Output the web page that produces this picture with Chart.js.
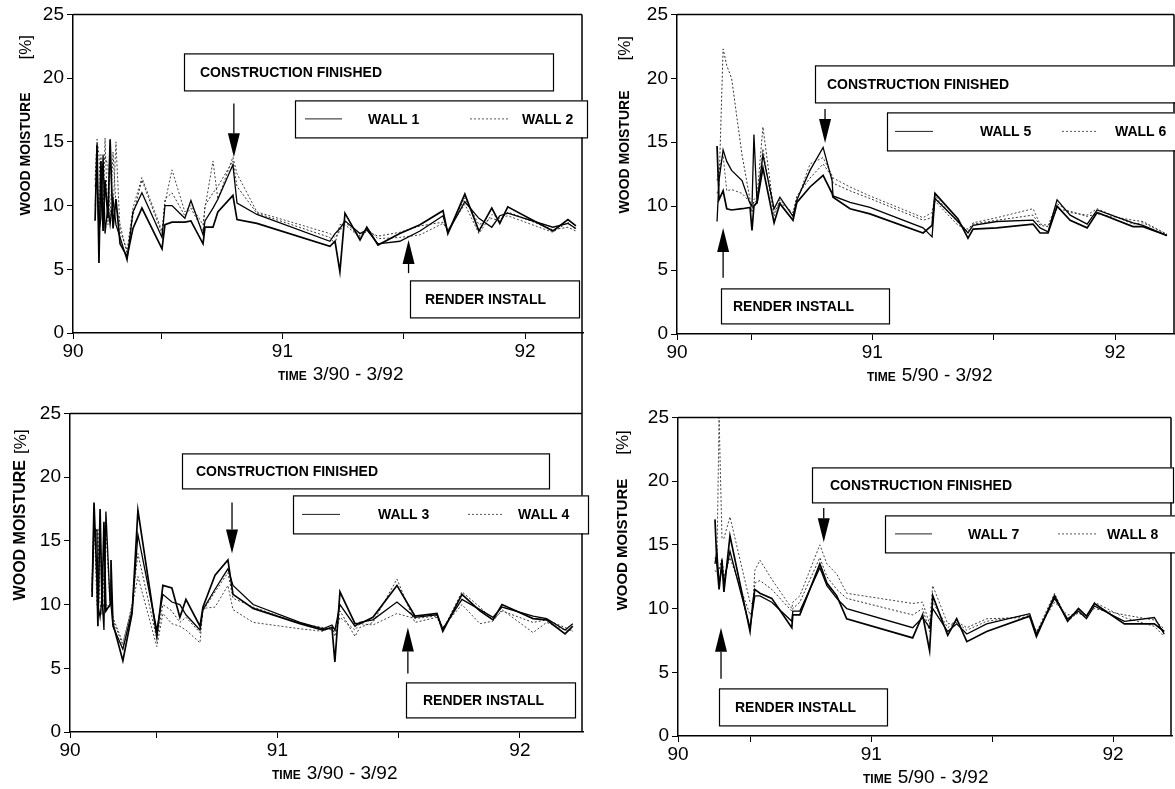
<!DOCTYPE html>
<html>
<head>
<meta charset="utf-8">
<script src="https://cdn.jsdelivr.net/npm/chart.js@4.4.1/dist/chart.umd.min.js"></script>
<style>
  html, body { margin: 0; padding: 0; background: #fff; }
  body { width: 1175px; height: 789px; position: relative; overflow: hidden; }
  canvas { position: absolute; }
</style>
</head>
<body>
<canvas id="p1"></canvas>
<canvas id="p2"></canvas>
<canvas id="p3"></canvas>
<canvas id="p4"></canvas>
<script>
// ---- data (years as decimals, moisture in %) ----
const xTickValues = [90.5, 91, 91.5, 92];
const xTickLabels = ['90', '', '91', '', '92'];   // first label sits on the axis origin

// walls 1 + 2 (3/90 - 3/92)
const t1 = [90.228, 90.236, 90.244, 90.252, 90.261, 90.269, 90.281, 90.290, 90.302, 90.314,
            90.331, 90.360, 90.384, 90.421, 90.504, 90.516, 90.545, 90.598, 90.623, 90.673,
            90.681, 90.714, 90.734, 90.796, 90.813, 90.895, 91.196, 91.217, 91.237, 91.258,
            91.320, 91.348, 91.394, 91.484, 91.567, 91.662, 91.682, 91.752, 91.810, 91.863,
            91.896, 91.929, 92.115, 92.177, 92.210];
const wall1a = [8.8, 14.8, 5.5, 13.5, 8.0, 12.0, 9.0, 15.2, 8.2, 10.5,
                7.0, 6.0, 8.2, 9.8, 6.6, 8.5, 8.7, 8.7, 8.8, 7.0,
                8.3, 8.3, 9.5, 10.8, 8.9, 8.6, 6.8, 7.2, 4.8, 9.4,
                7.3, 8.3, 6.9, 7.8, 8.5, 9.6, 7.8, 10.9, 8.0, 9.8,
                8.6, 9.9, 8.0, 8.9, 8.4];
const wall1b = [11.5, 12.0, 8.0, 9.0, 14.0, 7.8, 10.0, 8.5, 10.5, 8.5,
                7.5, 5.7, 9.5, 11.0, 7.5, 10.0, 10.0, 9.0, 10.4, 7.7,
                8.8, 9.8, 10.5, 13.2, 10.2, 9.3, 7.2, 7.8, 8.2, 8.8,
                7.8, 8.1, 7.0, 7.2, 8.0, 9.2, 7.9, 10.3, 9.0, 8.3,
                9.2, 9.4, 8.3, 8.6, 8.2];
const wall2a = [12.0, 15.2, 14.0, 10.0, 13.5, 13.8, 13.2, 9.0, 14.2, 10.0,
                8.5, 6.2, 9.2, 12.0, 7.8, 10.5, 11.0, 9.2, 9.8, 8.0,
                10.0, 11.0, 11.5, 13.5, 11.5, 9.4, 7.5, 7.0, 8.5, 8.5,
                7.5, 8.0, 7.6, 7.9, 8.4, 8.7, 8.0, 10.6, 8.5, 9.0,
                8.8, 9.5, 8.1, 8.3, 8.0];
const wall2b = [10.0, 13.0, 9.0, 14.0, 8.5, 15.3, 8.5, 13.5, 9.5, 15.0,
                8.0, 6.5, 9.8, 12.2, 8.0, 10.2, 12.8, 9.5, 10.0, 8.5,
                9.8, 13.5, 10.5, 13.8, 12.5, 9.5, 7.8, 7.5, 8.0, 8.7,
                7.6, 8.2, 7.4, 7.5, 7.7, 8.6, 8.1, 10.1, 7.8, 9.3,
                9.0, 9.2, 7.9, 8.7, 8.1];

// walls 5 + 6 (5/90 - 3/92)
const t2 = [90.360, 90.368, 90.385, 90.400, 90.420, 90.463, 90.496, 90.504, 90.512, 90.525,
            90.549, 90.595, 90.619, 90.673, 90.689, 90.743, 90.797, 90.834, 90.838, 90.908,
            90.990, 91.209, 91.246, 91.258, 91.353, 91.394, 91.415, 91.513, 91.662, 91.691,
            91.724, 91.761, 91.815, 91.885, 91.926, 92.074, 92.115, 92.214];
const wall5a = [14.7, 10.5, 11.2, 9.8, 9.7, 9.8, 9.9, 8.1, 10.0, 10.3,
                13.0, 8.7, 10.2, 8.9, 10.3, 11.5, 12.4, 11.0, 10.7, 9.8,
                9.4, 7.9, 8.5, 11.0, 9.0, 7.5, 8.2, 8.3, 8.6, 7.9,
                7.9, 10.0, 8.9, 8.3, 9.5, 8.4, 8.4, 7.7];
const wall5b = [8.8, 12.0, 14.4, 13.5, 12.8, 12.0, 10.2, 10.0, 15.6, 10.2,
                14.0, 9.8, 10.7, 9.2, 10.5, 12.8, 14.6, 12.0, 10.8, 10.3,
                9.9, 8.3, 7.6, 10.6, 8.8, 7.9, 8.5, 8.8, 8.9, 8.3,
                8.0, 10.5, 9.3, 8.6, 9.7, 8.7, 8.5, 7.7];
const wall6a = [11.0, 11.5, 22.3, 21.0, 20.0, 14.0, 10.5, 9.5, 10.5, 10.8,
                16.2, 9.5, 10.3, 9.5, 10.8, 12.2, 13.3, 12.3, 11.8, 11.2,
                10.6, 8.9, 9.1, 10.4, 8.5, 8.2, 8.6, 8.9, 9.3, 8.5,
                8.4, 9.8, 9.6, 9.2, 9.4, 8.9, 8.8, 7.8];
const wall6b = [12.0, 13.0, 14.0, 11.2, 11.3, 11.0, 10.3, 9.8, 10.2, 10.5,
                14.5, 9.2, 10.5, 9.3, 10.4, 13.3, 13.8, 12.4, 12.2, 11.5,
                10.8, 9.1, 9.5, 10.8, 8.7, 8.0, 8.7, 9.1, 9.8, 8.6,
                8.5, 10.2, 9.5, 9.3, 9.8, 8.6, 8.7, 7.8];

// walls 3 + 4 (3/90 - 3/92)
const t3 = [90.236, 90.244, 90.256, 90.260, 90.269, 90.277, 90.285, 90.293, 90.310, 90.314,
            90.322, 90.363, 90.401, 90.425, 90.503, 90.528, 90.565, 90.598, 90.623, 90.681,
            90.693, 90.743, 90.796, 90.817, 90.900, 91.093, 91.188, 91.225, 91.237, 91.258,
            91.320, 91.340, 91.394, 91.493, 91.567, 91.658, 91.682, 91.761, 91.835, 91.889,
            91.926, 92.054, 92.110, 92.186, 92.218];
const wall3a = [10.6, 18.0, 12.0, 8.3, 17.5, 10.0, 16.5, 9.5, 10.0, 13.5,
                8.5, 5.6, 9.3, 17.4, 7.5, 11.5, 11.3, 9.0, 10.4, 8.3,
                9.8, 12.3, 13.5, 10.8, 9.7, 8.5, 8.0, 8.2, 5.5, 11.0,
                8.5, 8.5, 9.0, 11.5, 9.1, 9.3, 7.9, 10.8, 9.5, 8.8,
                10.0, 8.9, 8.8, 7.7, 8.3];
const wall3b = [11.0, 16.0, 15.8, 10.0, 9.0, 10.5, 8.0, 17.3, 10.2, 10.0,
                8.3, 6.5, 9.5, 15.5, 8.0, 10.8, 10.2, 10.0, 9.2, 8.0,
                9.6, 11.2, 12.8, 11.5, 10.0, 8.6, 8.1, 8.4, 8.0, 10.0,
                8.3, 8.6, 8.8, 10.2, 9.0, 9.2, 8.1, 10.4, 9.6, 9.0,
                9.8, 9.1, 8.9, 8.0, 8.5];
const wall4a = [12.0, 17.0, 10.0, 9.5, 16.5, 10.2, 9.8, 16.0, 10.0, 12.0,
                8.8, 6.8, 10.0, 14.0, 7.3, 10.0, 9.5, 8.6, 9.0, 7.8,
                9.5, 11.0, 12.5, 10.5, 9.8, 8.5, 8.2, 8.0, 7.8, 9.5,
                7.5, 8.2, 8.6, 12.0, 8.6, 9.0, 8.0, 11.0, 9.8, 8.8,
                9.5, 8.6, 8.8, 8.2, 7.9];
const wall4b = [11.5, 15.5, 14.5, 16.0, 10.0, 9.2, 12.5, 10.0, 9.8, 10.5,
                9.0, 7.0, 9.8, 12.2, 6.7, 9.3, 8.5, 8.3, 8.0, 7.0,
                9.7, 9.8, 11.5, 9.6, 8.6, 8.1, 7.9, 8.3, 7.5, 9.0,
                8.0, 8.5, 8.4, 9.3, 8.9, 9.1, 8.2, 10.0, 8.5, 8.7,
                9.6, 7.8, 8.6, 8.0, 8.0];

// walls 7 + 8 (5/90 - 3/92)
const t4 = [90.353, 90.361, 90.370, 90.382, 90.390, 90.415, 90.498, 90.510, 90.518, 90.539,
            90.588, 90.671, 90.675, 90.704, 90.787, 90.816, 90.857, 90.898, 91.171, 91.212,
            91.241, 91.254, 91.316, 91.353, 91.395, 91.477, 91.655, 91.683, 91.758, 91.812,
            91.857, 91.890, 91.923, 92.047, 92.171, 92.212];
const wall7a = [17.0, 13.5, 11.5, 13.8, 11.3, 15.7, 8.2, 10.5, 11.5, 11.2,
                10.8, 8.5, 9.5, 9.5, 13.5, 12.0, 11.0, 9.2, 7.7, 9.5,
                6.7, 11.0, 7.9, 9.2, 7.4, 8.2, 9.4, 7.8, 11.0, 9.0,
                10.0, 9.4, 10.4, 8.8, 8.8, 8.2];
const wall7b = [13.5, 14.5, 12.0, 13.2, 12.0, 14.5, 8.5, 10.0, 11.0, 11.0,
                10.5, 9.0, 9.8, 9.8, 13.2, 11.8, 10.8, 10.0, 8.5, 9.3,
                8.5, 10.0, 8.2, 8.8, 8.0, 8.8, 9.6, 8.0, 10.8, 9.2,
                9.8, 9.2, 10.2, 9.0, 9.3, 8.0];
const wall8a = [13.0, 12.8, 13.0, 14.0, 12.5, 14.0, 9.5, 10.0, 12.0, 12.2,
                11.5, 9.8, 10.0, 10.5, 14.0, 12.5, 11.5, 10.8, 9.5, 10.0,
                8.2, 10.5, 8.5, 9.0, 8.5, 9.2, 9.3, 8.2, 10.5, 9.5,
                9.6, 9.5, 10.0, 9.5, 9.1, 8.4];
const wall8b = [14.0, 13.5, 25.0, 15.5, 15.5, 17.2, 10.5, 10.3, 13.0, 13.8,
                12.3, 10.0, 10.5, 11.0, 15.0, 13.5, 12.7, 11.2, 10.4, 10.5,
                8.8, 11.8, 8.8, 8.9, 8.3, 9.0, 9.5, 8.1, 11.2, 9.0,
                9.7, 9.3, 10.5, 9.3, 8.6, 7.8];

// event markers (time of the arrow)
const constructionTime = [90.800, 90.805, 90.813, 90.803];
const renderTime = [91.520, 90.385, 91.538, 90.378];

// ---- layout of the four panels ----
const FONT = '"Liberation Sans", Arial, Helvetica, sans-serif';
const Y_W = 60, X_H = 30;

const panels = [
  { id: 'p1', time: t1, series: [wall1a, wall1b, wall2a, wall2b], walls: ['WALL 1', 'WALL 2'],
    area: { L: 73, T: 14, R: 583, B: 333 }, canvasRight: 596, extraBottom: 14, xMin: 90.137, xMax: 92.239,
    xTitle: '3/90 - 3/92', xTitleX: 205, yTitle: { x: -47, y: 201, gap: 33, size: 14 }, frameDown: true,
    cons: [111, 39, 369, 37, 16], consArrow: [18.0, 13.8],
    legend: [222, 86, 292, 37], leg: [10, 47, 73, 175, 213, 227],
    render: [337, 266, 169, 37, 15], renderArrow: [4.7, 7.3] },
  { id: 'p2', time: t2, series: [wall5a, wall5b, wall6a, wall6b], walls: ['WALL 5', 'WALL 6'],
    area: { L: 677, T: 14, R: 1175, B: 334 }, canvasRight: 1175, extraBottom: 0, xMin: 90.195, xMax: 92.247,
    xTitle: '5/90 - 3/92', xTitleX: 190, yTitle: { x: -52, y: 199, gap: 30, size: 14 },
    cons: [138, 51, 372, 37, 12], consArrow: [17.6, 14.95],
    legend: [210, 98, 300, 38], leg: [8, 46, 93, 175, 211, 228],
    render: [44, 274, 168, 35, 12], renderArrow: [4.4, 8.3] },
  { id: 'p3', time: t3, series: [wall3a, wall3b, wall4a, wall4b], walls: ['WALL 3', 'WALL 4'],
    area: { L: 70, T: 413, R: 583, B: 732 }, canvasRight: 596, extraBottom: 0, xMin: 90.145, xMax: 92.26,
    xTitle: '3/90 - 3/92', xTitleX: 202, yTitle: { x: -49, y: 187, gap: 6, size: 16 }, frameUp: true,
    cons: [112, 40, 367, 35, 14], consArrow: [18.0, 14.0],
    legend: [223, 82, 295, 38], leg: [9, 47, 85, 175, 209, 225],
    render: [336, 269, 169, 35, 17], renderArrow: [4.6, 8.2] },
  { id: 'p4', time: t4, series: [wall7a, wall7b, wall8a, wall8b], walls: ['WALL 7', 'WALL 8'],
    area: { L: 678, T: 417, R: 1172, B: 736 }, canvasRight: 1175, extraBottom: 0, xMin: 90.2, xMax: 92.244,
    xTitle: '5/90 - 3/92', xTitleX: 185, yTitle: { x: -55, y: 193, gap: 24, size: 15 },
    cons: [134, 50, 361, 35, 18], consArrow: [17.9, 15.2],
    legend: [207, 98, 300, 37], leg: [10, 47, 83, 173, 212, 222],
    render: [41, 271, 168, 37, 16], renderArrow: [4.5, 8.5] }
];

const lineStyles = [
  { color: '#000', width: 1.7, dash: [] },
  { color: '#000', width: 1.3, dash: [] },
  { color: '#333', width: 1.0, dash: [2, 2] },
  { color: '#444', width: 1.0, dash: [2, 2] }
];

function drawArrow(ctx, px, yFrom, yTo) {
  const dir = yTo > yFrom ? 1 : -1;
  const head = 24, half = 6;
  ctx.beginPath();
  ctx.moveTo(px, yFrom);
  ctx.lineTo(px, yTo - dir * head);
  ctx.stroke();
  ctx.beginPath();
  ctx.moveTo(px, yTo);
  ctx.lineTo(px - half, yTo - dir * head);
  ctx.lineTo(px + half, yTo - dir * head);
  ctx.closePath();
  ctx.fill();
}

function decorPlugin(p, idx) {
  return {
    id: 'decor',
    afterDraw(chart) {
      const ctx = chart.ctx, a = chart.chartArea;
      const xs = chart.scales.x, ys = chart.scales.y;
      ctx.save();
      ctx.strokeStyle = '#000';
      ctx.fillStyle = '#000';

      // top and right frame (the divider between left and right columns runs through)
      ctx.lineWidth = 1.5;
      ctx.beginPath();
      ctx.moveTo(a.left, a.top);
      ctx.lineTo(a.right - 1, a.top);
      ctx.moveTo(a.right - 1, p.frameUp ? 0 : a.top);
      ctx.lineTo(a.right - 1, p.frameDown ? chart.height : a.bottom);
      ctx.stroke();

      function box(r) {
        ctx.fillStyle = '#fff';
        ctx.fillRect(a.left + r[0], a.top + r[1], r[2], r[3]);
        ctx.lineWidth = 1.2;
        ctx.strokeRect(a.left + r[0] + 0.5, a.top + r[1] + 0.5, r[2], r[3]);
        ctx.fillStyle = '#000';
      }

      ctx.font = 'bold 14px ' + FONT;
      ctx.textBaseline = 'middle';
      ctx.textAlign = 'left';

      // construction finished box + arrow
      box(p.cons);
      ctx.fillText('CONSTRUCTION FINISHED', a.left + p.cons[0] + p.cons[4], a.top + p.cons[1] + p.cons[3] / 2 + 1);
      ctx.lineWidth = 1.3;
      drawArrow(ctx, xs.getPixelForValue(constructionTime[idx]),
                ys.getPixelForValue(p.consArrow[0]), ys.getPixelForValue(p.consArrow[1]));

      // legend box
      box(p.legend);
      const lx = a.left + p.legend[0], ly = a.top + p.legend[1] + p.legend[3] / 2;
      ctx.lineWidth = 1;
      ctx.strokeStyle = '#222';
      ctx.beginPath();
      ctx.moveTo(lx + p.leg[0], ly); ctx.lineTo(lx + p.leg[1], ly);
      ctx.stroke();
      ctx.setLineDash([2, 2]);
      ctx.strokeStyle = '#555';
      ctx.beginPath();
      ctx.moveTo(lx + p.leg[3], ly); ctx.lineTo(lx + p.leg[4], ly);
      ctx.stroke();
      ctx.setLineDash([]);
      ctx.strokeStyle = '#000';
      ctx.font = 'bold 14px ' + FONT;
      ctx.fillText(p.walls[0], lx + p.leg[2], ly + 1);
      ctx.fillText(p.walls[1], lx + p.leg[5], ly + 1);

      // render install box + arrow
      box(p.render);
      ctx.fillText('RENDER INSTALL', a.left + p.render[0] + p.render[4], a.top + p.render[1] + p.render[3] / 2 + 1);
      ctx.lineWidth = 1.3;
      drawArrow(ctx, xs.getPixelForValue(renderTime[idx]),
                ys.getPixelForValue(p.renderArrow[0]), ys.getPixelForValue(p.renderArrow[1]));

      // y title, rotated
      ctx.save();
      ctx.translate(a.left + p.yTitle.x, a.top + p.yTitle.y);
      ctx.rotate(-Math.PI / 2);
      ctx.font = 'bold ' + p.yTitle.size + 'px ' + FONT;
      ctx.fillText('WOOD MOISTURE', 0, 0);
      const w = ctx.measureText('WOOD MOISTURE').width;
      ctx.font = '17px ' + FONT;
      ctx.fillText('[%]', w + p.yTitle.gap, 0);
      ctx.restore();

      // x title
      ctx.textBaseline = 'alphabetic';
      ctx.font = 'bold 12px ' + FONT;
      const tx = a.left + p.xTitleX, ty = a.bottom + 47;
      ctx.fillText('TIME', tx, ty);
      const tw = ctx.measureText('TIME').width;
      ctx.font = '19px ' + FONT;
      ctx.fillText(p.xTitle, tx + tw + 6, ty);

      ctx.restore();
    }
  };
}

function buildPanel(p, idx) {
  const canvas = document.getElementById(p.id);
  const left = p.area.L - 12 - Y_W;
  const top = p.area.T - 14;
  const width = p.canvasRight - left;
  const height = p.area.B - top + 52 + p.extraBottom;
  canvas.width = width;
  canvas.height = height;
  canvas.style.left = left + 'px';
  canvas.style.top = top + 'px';

  const datasets = p.series.map((vals, i) => ({
    data: p.time.map((t, k) => ({ x: t, y: vals[k] })),
    borderColor: lineStyles[i].color,
    borderWidth: lineStyles[i].width,
    borderDash: lineStyles[i].dash,
    pointRadius: 0,
    tension: 0,
    fill: false
  }));

  return new Chart(canvas, {
    type: 'line',
    data: { datasets },
    options: {
      responsive: false,
      animation: false,
      layout: { padding: { left: 12, top: 14, right: p.canvasRight - p.area.R, bottom: 52 + p.extraBottom - X_H } },
      plugins: { legend: { display: false }, tooltip: { enabled: false } },
      scales: {
        x: {
          type: 'linear',
          min: p.xMin,
          max: p.xMax,
          afterBuildTicks: s => { s.ticks = [p.xMin].concat(xTickValues).map(v => ({ value: v })); },
          afterFit: s => { s.height = X_H; },
          ticks: {
            autoSkip: false, maxRotation: 0, padding: 1, color: '#000',
            font: { family: FONT, size: 19 },
            callback: (v, i) => xTickLabels[i]
          },
          grid: { drawOnChartArea: false, tickLength: 6, color: '#000', tickColor: '#000' },
          border: { color: '#000', width: 1.5 }
        },
        y: {
          min: 0,
          max: 25,
          afterFit: s => { s.width = Y_W; },
          ticks: { stepSize: 5, padding: 3, color: '#000', font: { family: FONT, size: 19 } },
          grid: { drawOnChartArea: false, tickLength: 6, color: '#000', tickColor: '#000' },
          border: { color: '#000', width: 1.5 }
        }
      }
    },
    plugins: [decorPlugin(p, idx)]
  });
}

panels.forEach(buildPanel);
</script>
</body>
</html>
